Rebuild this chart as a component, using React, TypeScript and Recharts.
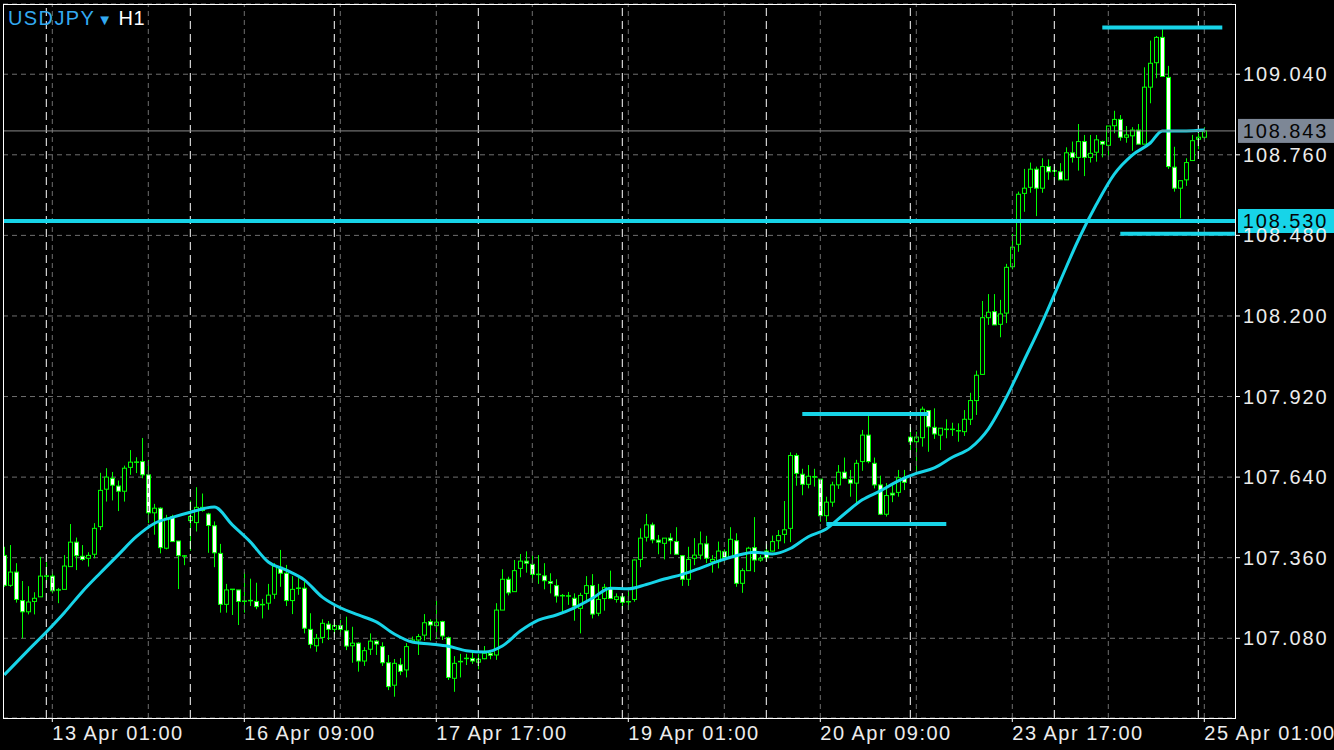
import { ComposedChart, Bar, Line, XAxis, YAxis, CartesianGrid, ReferenceLine } from "recharts";

// ── Theme ─────────────────────────────────────────────────────────────────────
const BG      = "#000000";
const CANDLE  = "#00ff00";
const CYAN    = "#17d4e8";
const GRID    = "#6f6f6f";
const SEP     = "#ffffff";
const TEXT    = "#ececec";
const BID_TAG = "#7d8796";
const FONT    = "'Liberation Sans', Arial, sans-serif";

// ── Data: USDJPY H1, bar 0 = 12 Apr 16:00, weekend hours skipped ─────────────
const opens = [
  107.368, 107.264, 107.310, 107.211, 107.172, 107.208, 107.224, 107.296, 107.296, 107.248,
  107.250, 107.329, 107.414, 107.365, 107.358, 107.372, 107.468, 107.598, 107.636, 107.609,
  107.591, 107.674, 107.692, 107.694, 107.648, 107.516, 107.532, 107.393, 107.503, 107.418,
  107.366, 107.489, 107.482, 107.524, 107.512, 107.471, 107.375, 107.198, 107.250, 107.248,
  107.209, 107.211, 107.208, 107.197, 107.202, 107.233, 107.327, 107.306, 107.211, 107.254,
  107.254, 107.111, 107.054, 107.083, 107.129, 107.111, 107.124, 107.106, 107.054, 107.063,
  107.001, 107.042, 107.070, 107.051, 106.995, 106.917, 106.988, 106.970, 107.068, 107.074,
  107.091, 107.138, 107.124, 107.138, 107.082, 106.941, 106.999, 107.010, 107.010, 106.997,
  107.009, 107.028, 107.022, 107.178, 107.285, 107.242, 107.323, 107.348, 107.337, 107.302,
  107.297, 107.277, 107.263, 107.228, 107.227, 107.219, 107.184, 107.236, 107.263, 107.167,
  107.218, 107.254, 107.215, 107.224, 107.207, 107.215, 107.354, 107.431, 107.474, 107.421,
  107.410, 107.428, 107.416, 107.367, 107.285, 107.358, 107.369, 107.408, 107.346, 107.346,
  107.381, 107.364, 107.419, 107.271, 107.315, 107.395, 107.352, 107.383, 107.383, 107.419,
  107.441, 107.462, 107.715, 107.650, 107.615, 107.641, 107.633, 107.506, 107.553, 107.613,
  107.657, 107.631, 107.619, 107.694, 107.786, 107.688, 107.613, 107.511, 107.584, 107.587,
  107.638, 107.779, 107.763, 107.777, 107.871, 107.813, 107.786, 107.806, 107.806, 107.801,
  107.798, 107.841, 107.906, 107.997, 108.194, 108.215, 108.171, 108.210, 108.371, 108.449,
  108.626, 108.647, 108.710, 108.644, 108.719, 108.704, 108.701, 108.673, 108.767, 108.751,
  108.806, 108.751, 108.769, 108.806, 108.793, 108.861, 108.883, 108.821, 108.826, 108.846,
  108.797, 108.995, 109.080, 109.168, 109.029, 108.717, 108.644, 108.673, 108.740, 108.814,
  108.821,
];

const highs = [
  107.398, 107.404, 107.341, 107.279, 107.261, 107.240, 107.363, 107.344, 107.314, 107.255,
  107.369, 107.477, 107.430, 107.404, 107.379, 107.480, 107.655, 107.671, 107.658, 107.628,
  107.680, 107.734, 107.709, 107.776, 107.700, 107.547, 107.535, 107.509, 107.509, 107.418,
  107.369, 107.558, 107.605, 107.583, 107.516, 107.486, 107.408, 107.269, 107.250, 107.248,
  107.310, 107.287, 107.273, 107.217, 107.269, 107.341, 107.387, 107.335, 107.296, 107.289,
  107.277, 107.167, 107.095, 107.146, 107.140, 107.140, 107.144, 107.155, 107.120, 107.066,
  107.049, 107.097, 107.074, 107.066, 107.022, 107.008, 107.011, 107.063, 107.086, 107.095,
  107.164, 107.146, 107.210, 107.141, 107.086, 107.018, 107.026, 107.026, 107.034, 107.026,
  107.053, 107.037, 107.202, 107.320, 107.294, 107.352, 107.373, 107.382, 107.369, 107.369,
  107.341, 107.306, 107.285, 107.234, 107.241, 107.236, 107.238, 107.296, 107.303, 107.269,
  107.269, 107.315, 107.236, 107.234, 107.250, 107.354, 107.462, 107.512, 107.482, 107.439,
  107.428, 107.445, 107.466, 107.369, 107.398, 107.428, 107.451, 107.436, 107.369, 107.416,
  107.389, 107.466, 107.445, 107.323, 107.398, 107.501, 107.369, 107.407, 107.437, 107.456,
  107.557, 107.726, 107.723, 107.669, 107.682, 107.669, 107.633, 107.572, 107.624, 107.682,
  107.708, 107.665, 107.700, 107.804, 107.853, 107.708, 107.645, 107.619, 107.615, 107.665,
  107.665, 107.813, 107.798, 107.885, 107.871, 107.879, 107.810, 107.841, 107.829, 107.827,
  107.873, 107.933, 108.010, 108.252, 108.276, 108.276, 108.256, 108.381, 108.485, 108.632,
  108.711, 108.733, 108.719, 108.748, 108.744, 108.719, 108.731, 108.786, 108.806, 108.867,
  108.829, 108.829, 108.829, 108.809, 108.860, 108.913, 108.898, 108.860, 108.856, 108.867,
  109.064, 109.157, 109.173, 109.196, 109.069, 108.788, 108.670, 108.748, 108.829, 108.835,
  108.856,
];

const lows = [
  107.259, 107.259, 107.204, 107.080, 107.163, 107.163, 107.224, 107.271, 107.236, 107.202,
  107.250, 107.329, 107.317, 107.349, 107.329, 107.358, 107.456, 107.555, 107.559, 107.522,
  107.555, 107.648, 107.654, 107.636, 107.480, 107.440, 107.375, 107.389, 107.416, 107.251,
  107.334, 107.384, 107.451, 107.520, 107.377, 107.327, 107.169, 107.169, 107.161, 107.126,
  107.169, 107.192, 107.181, 107.149, 107.179, 107.217, 107.259, 107.192, 107.164, 107.231,
  107.097, 107.045, 107.033, 107.063, 107.074, 107.095, 107.091, 107.039, 106.995, 106.964,
  106.984, 107.022, 107.022, 106.984, 106.900, 106.877, 106.952, 106.944, 107.063, 107.022,
  107.072, 107.072, 107.077, 107.074, 106.935, 106.894, 106.944, 106.987, 106.991, 106.972,
  107.007, 107.007, 107.005, 107.178, 107.229, 107.242, 107.292, 107.308, 107.273, 107.269,
  107.250, 107.236, 107.204, 107.172, 107.196, 107.141, 107.097, 107.202, 107.149, 107.157,
  107.176, 107.218, 107.204, 107.181, 107.178, 107.207, 107.327, 107.416, 107.410, 107.372,
  107.354, 107.372, 107.372, 107.262, 107.262, 107.334, 107.354, 107.341, 107.308, 107.323,
  107.341, 107.364, 107.259, 107.238, 107.315, 107.310, 107.346, 107.346, 107.381, 107.390,
  107.410, 107.414, 107.610, 107.577, 107.601, 107.607, 107.485, 107.485, 107.537, 107.599,
  107.634, 107.572, 107.549, 107.662, 107.688, 107.601, 107.509, 107.503, 107.553, 107.572,
  107.595, 107.734, 107.653, 107.746, 107.728, 107.773, 107.734, 107.775, 107.783, 107.763,
  107.783, 107.821, 107.856, 107.997, 108.169, 108.169, 108.126, 108.175, 108.362, 108.423,
  108.562, 108.628, 108.547, 108.628, 108.673, 108.684, 108.673, 108.673, 108.733, 108.705,
  108.686, 108.733, 108.736, 108.751, 108.753, 108.835, 108.809, 108.802, 108.774, 108.797,
  108.797, 108.939, 109.026, 109.032, 108.711, 108.632, 108.539, 108.652, 108.740, 108.779,
  108.814,
];

const closes = [
  107.264, 107.310, 107.215, 107.172, 107.206, 107.219, 107.296, 107.296, 107.245, 107.248,
  107.331, 107.414, 107.367, 107.354, 107.368, 107.462, 107.594, 107.640, 107.612, 107.591,
  107.671, 107.692, 107.694, 107.648, 107.516, 107.532, 107.395, 107.497, 107.416, 107.367,
  107.366, 107.503, 107.535, 107.535, 107.472, 107.377, 107.198, 107.248, 107.250, 107.208,
  107.209, 107.211, 107.190, 107.197, 107.230, 107.331, 107.306, 107.211, 107.250, 107.254,
  107.115, 107.059, 107.080, 107.132, 107.111, 107.124, 107.111, 107.053, 107.063, 107.001,
  107.037, 107.070, 107.060, 106.995, 106.912, 106.993, 106.965, 107.051, 107.074, 107.086,
  107.134, 107.126, 107.136, 107.088, 106.944, 106.993, 106.999, 107.010, 107.001, 107.007,
  107.028, 107.021, 107.178, 107.285, 107.238, 107.315, 107.348, 107.341, 107.302, 107.302,
  107.280, 107.271, 107.227, 107.228, 107.227, 107.192, 107.229, 107.263, 107.164, 107.215,
  107.257, 107.218, 107.224, 107.205, 107.207, 107.352, 107.428, 107.474, 107.422, 107.414,
  107.428, 107.419, 107.372, 107.285, 107.354, 107.369, 107.408, 107.358, 107.354, 107.383,
  107.361, 107.424, 107.271, 107.315, 107.393, 107.352, 107.358, 107.360, 107.416, 107.437,
  107.457, 107.715, 107.653, 107.615, 107.643, 107.641, 107.506, 107.553, 107.613, 107.657,
  107.636, 107.619, 107.688, 107.786, 107.694, 107.613, 107.511, 107.576, 107.578, 107.638,
  107.622, 107.763, 107.779, 107.876, 107.815, 107.790, 107.810, 107.806, 107.806, 107.801,
  107.841, 107.906, 107.994, 108.194, 108.213, 108.169, 108.207, 108.369, 108.439, 108.623,
  108.644, 108.710, 108.644, 108.719, 108.701, 108.704, 108.673, 108.767, 108.751, 108.806,
  108.751, 108.765, 108.812, 108.797, 108.860, 108.883, 108.821, 108.829, 108.846, 108.797,
  108.995, 109.078, 109.168, 109.032, 108.719, 108.644, 108.670, 108.733, 108.809, 108.821,
  108.843,
];

// moving average at these bars
const maBars = [
  0, 4, 7, 10, 13, 16, 19, 22, 25, 28, 31, 35, 38, 41, 44, 47, 50, 53, 56, 59,
  62, 65, 68, 71, 74, 77, 80, 83, 86, 89, 92, 95, 98, 101, 104, 107, 110, 113, 116, 119,
  122, 125, 128, 131, 134, 137, 140, 143, 146, 149, 152, 155, 158, 161, 164, 167, 170, 173, 176, 179,
  182, 185, 188, 191, 193, 197, 200,
];
const maValues = [
  106.953, 107.039, 107.102, 107.169, 107.242, 107.307, 107.370, 107.433, 107.479, 107.500,
  107.518, 107.536, 107.474, 107.415, 107.345, 107.317, 107.283, 107.223, 107.186, 107.161,
  107.137, 107.095, 107.067, 107.060, 107.052, 107.037, 107.032, 107.053, 107.105, 107.143,
  107.161, 107.186, 107.219, 107.254, 107.252, 107.267, 107.286, 107.302, 107.324, 107.348,
  107.367, 107.379, 107.373, 107.392, 107.433, 107.460, 107.512, 107.561, 107.592, 107.627,
  107.653, 107.672, 107.709, 107.741, 107.807, 107.917, 108.047, 108.179, 108.322, 108.464,
  108.587, 108.693, 108.759, 108.801, 108.843, 108.843, 108.846,
];

// axes
const priceTicks   = [107.08, 107.36, 107.64, 107.92, 108.2, 108.48, 108.76, 109.04];
const timeTickBars = [8, 40, 72, 104, 136, 168, 200];
const timeLabels   = ["13 Apr 01:00", "16 Apr 09:00", "17 Apr 17:00", "19 Apr 01:00", "20 Apr 09:00", "23 Apr 17:00", "25 Apr 01:00"];
const gridBars     = [8, 24, 40, 56, 72, 88, 104, 120, 136, 152, 168, 184, 200];
const dayStartBars = [7, 31, 55, 79, 103, 127, 151, 175, 199];

// drawn objects
const bidPrice   = 108.843;
const levelPrice = 108.53;
const segFrom    = [183, 186, 133, 137];
const segTo      = [203, 205.1, 154, 157];
const segPrice   = [109.202, 108.486, 107.859, 107.477];

const X_DOMAIN: [number, number] = [-0.2167, 205.117];
const Y_DOMAIN: [number, number] = [106.803, 109.284];

const data = opens.map((o, i) => ({
  i,
  open: o,
  high: highs[i],
  low: lows[i],
  close: closes[i],
  ma: null as number | null,
}));
maBars.forEach((b, k) => { data[b].ma = maValues[k]; });

// ── Candle shape: bar spans low..high, body mapped inside it ─────────────────
function Candle(props: any) {
  const { x, y, width, height, payload } = props;
  if (!payload || height == null) return null;
  const top = Math.min(y, y + height);
  const span = Math.abs(height);
  const range = payload.high - payload.low;
  const k = range > 0 ? span / range : 0;
  const cx = Math.round(x + width / 2) + 0.5;
  const yO = top + (payload.high - payload.open) * k;
  const yC = top + (payload.high - payload.close) * k;
  const bodyTop = Math.min(yO, yC);
  const bodyH = Math.abs(yC - yO);
  const bear = payload.close < payload.open;
  return (
    <g>
      <line x1={cx} x2={cx} y1={top} y2={top + span} stroke={CANDLE} strokeWidth={1} />
      {bodyH < 1 ? (
        <line x1={cx - 2.5} x2={cx + 2.5} y1={yO} y2={yO} stroke={CANDLE} strokeWidth={1.5} />
      ) : (
        <rect x={cx - 2} y={bodyTop} width={4} height={bodyH} fill={bear ? "#ffffff" : BG} stroke={CANDLE} strokeWidth={1} />
      )}
    </g>
  );
}

function PriceTick({ x, y, payload }: any) {
  return (
    <text x={x} y={y} dy={7} fill={TEXT} fontSize={20} letterSpacing={1.9} fontFamily={FONT} textAnchor="start">
      {Number(payload.value).toFixed(3)}
    </text>
  );
}

function TimeTick({ x, y, payload }: any) {
  const k = timeTickBars.indexOf(payload.value);
  return (
    <text x={x} y={y} dy={16} fill={TEXT} fontSize={20} letterSpacing={1.5} fontFamily={FONT} textAnchor="start">
      {timeLabels[k]}
    </text>
  );
}

function priceTag(value: number, fill: string) {
  return (props: any) => {
    const vb = props.viewBox || {};
    const right = (vb.x || 0) + (vb.width || 0);
    const y = vb.y || 0;
    return (
      <g>
        <rect x={right + 3} y={y - 12} width={96} height={24} fill={fill} />
        <text x={right + 7.7} y={y + 7} fill="#050505" fontSize={20} letterSpacing={1.9} fontFamily={FONT}>
          {value.toFixed(3)}
        </text>
      </g>
    );
  };
}

export default function App() {
  return (
    <div style={{ position: "relative", width: 1334, height: 750, background: BG, overflow: "hidden" }}>
      <style>{"body{margin:0;background:#000}"}</style>
      <ComposedChart width={1334} height={750} data={data} margin={{ top: 4, right: 0, bottom: 0, left: 3 }}>
        <CartesianGrid vertical={false} stroke={GRID} strokeDasharray="5 4" />
        <XAxis
          type="number"
          dataKey="i"
          domain={X_DOMAIN}
          allowDataOverflow
          ticks={timeTickBars}
          interval={0}
          height={32}
          tickSize={4}
          axisLine={false}
          tickLine={{ stroke: "#ffffff" }}
          tick={TimeTick}
        />
        <YAxis
          orientation="right"
          domain={Y_DOMAIN}
          allowDataOverflow
          ticks={priceTicks}
          width={99}
          tickSize={5}
          tickMargin={3}
          axisLine={false}
          tickLine={{ stroke: "#ffffff" }}
          tick={PriceTick}
        />
        {gridBars.map((b) => (
          <ReferenceLine key={"g" + b} x={b} stroke={GRID} strokeDasharray="5 4" />
        ))}
        {dayStartBars.map((b) => (
          <ReferenceLine key={"d" + b} x={b} stroke={SEP} strokeDasharray="8 5" />
        ))}
        <Bar dataKey={(d: any) => [d.low, d.high]} barSize={5} shape={Candle} isAnimationActive={false} />
        <Line
          dataKey="ma"
          type="monotone"
          stroke={CYAN}
          strokeWidth={3}
          dot={false}
          activeDot={false}
          connectNulls
          isAnimationActive={false}
        />
        <ReferenceLine y={bidPrice} stroke="#8a8a8a" strokeWidth={1} label={priceTag(bidPrice, BID_TAG)} />
        <ReferenceLine y={levelPrice} stroke={CYAN} strokeWidth={4} label={priceTag(levelPrice, CYAN)} />
        {segPrice.map((p, k) => (
          <ReferenceLine
            key={"s" + k}
            segment={[{ x: segFrom[k], y: p }, { x: segTo[k], y: p }]}
            stroke={CYAN}
            strokeWidth={4}
            ifOverflow="visible"
          />
        ))}
      </ComposedChart>
      <div
        style={{
          position: "absolute", left: 3, top: 4, width: 1233, height: 715,
          border: "1px solid #ffffff", boxSizing: "border-box", pointerEvents: "none",
        }}
      />
      <div
        style={{
          position: "absolute", left: 8, top: 6, fontFamily: FONT, fontSize: 20,
          letterSpacing: 1.4, lineHeight: "24px", whiteSpace: "nowrap",
        }}
      >
        <span style={{ color: "#33a9f0" }}>USDJPY</span>
        <span style={{ color: "#33a9f0", fontSize: 15, marginLeft: 2 }}>▼</span>
        <span style={{ color: "#ffffff", marginLeft: 5, letterSpacing: 0.5 }}>H1</span>
      </div>
    </div>
  );
}
